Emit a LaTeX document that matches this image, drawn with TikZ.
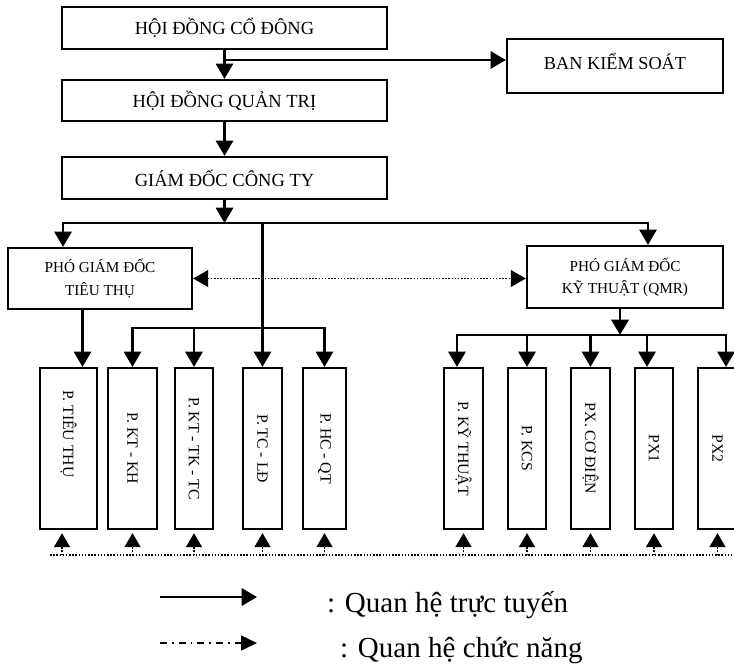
\documentclass[tikz,border=0pt]{standalone}
\usepackage{fontspec}
\setmainfont{Liberation Serif}
\usepackage{tikz}
\usetikzlibrary{arrows.meta,calc}

\begin{document}
\begin{tikzpicture}[
  x=0.3mm, y=-0.3mm,
  box/.style={rectangle, draw=black, line width=0.68mm, inner sep=0pt,
              align=center, fill=white},
  bigbox/.style={box, minimum width=97.5mm, minimum height=12.6mm,
                 font=\fontsize{15.8}{19}\selectfont},
  vicebox/.style={box, font=\fontsize{13}{18.8}\selectfont},
  deptbox/.style={box, minimum height=48.3mm},
  deptlabel/.style={rotate=-90, font=\fontsize{13.4}{16}\selectfont},
  legend/.style={font=\fontsize{24.8}{28}\selectfont, inner sep=0pt},
  line/.style={-{Triangle[length=4.6mm, width=5.2mm]}, line width=0.68mm},
  bus/.style={line width=0.68mm, line cap=rect},
  dots/.style={line width=0.45mm, dash pattern=on 0.45mm off 0.5mm},
  func/.style={dots, -{Triangle[length=4.2mm, width=4.8mm]}},
  dashdot/.style={-{Triangle[length=4.8mm, width=4.5mm]}, line width=0.45mm,
                  dash pattern=on 2.1mm off 1.5mm on 0.5mm off 1.5mm},
]
\useasboundingbox (0,0) rectangle (734,664);

% Top
\node[bigbox] (hdcd) at (224.5,28) {HỘI ĐỒNG CỔ ĐÔNG};
\node[bigbox, minimum height=12.3mm] (hdqt) at (224.5,100.5) {HỘI ĐỒNG QUẢN TRỊ};
\node[bigbox] (gd) at (224.5,178) {GIÁM ĐỐC CÔNG TY};
\node[box, minimum width=64.8mm, minimum height=16.2mm, text depth=3mm,
      font=\fontsize{15.6}{19}\selectfont] (bks) at (615,66) {BAN KIỂM SOÁT};

% Vice directors
\node[vicebox, minimum width=55.2mm, minimum height=18.3mm] (pgdtt) at (100,278.5)
  {PHÓ GIÁM ĐỐC\\TIÊU THỤ};
\node[vicebox, minimum width=58.8mm, minimum height=18.6mm] (pgdkt) at (625,277)
  {PHÓ GIÁM ĐỐC\\KỸ THUẬT (QMR)};

% Departments, left
\node[deptbox, minimum width=17.1mm,
      label={[yshift=4.35mm, deptlabel]center:P. TIÊU THỤ}] (ptt) at (68.5,448.5) {};
\node[deptbox, minimum width=14.7mm,
      label={[deptlabel]center:P. KT - KH}] (pkh) at (132.5,448.5) {};
\node[deptbox, minimum width=11.4mm,
      label={[deptlabel]center:P. KT - TK - TC}] (ptk) at (194,448.5) {};
\node[deptbox, minimum width=11.7mm,
      label={[deptlabel]center:P. TC - LĐ}] (ptc) at (262.5,448.5) {};
\node[deptbox, minimum width=12.9mm,
      label={[deptlabel]center:P. HC - QT}] (phc) at (324.5,448.5) {};

% Departments, right
\node[deptbox, minimum width=11.7mm,
      label={[deptlabel]center:P. KỸ THUẬT}] (pkt) at (463.5,448.5) {};
\node[deptbox, minimum width=11.4mm,
      label={[deptlabel]center:P. KCS}] (pkcs) at (527,448.5) {};
\node[deptbox, minimum width=11.7mm,
      label={[deptlabel]center:PX. CƠ ĐIỆN}] (pxcd) at (590.5,448.5) {};
\node[deptbox, minimum width=11.4mm,
      label={[deptlabel]center:PX1}] (px1) at (654,448.5) {};
\node[deptbox, minimum width=11.7mm,
      label={[deptlabel]center:PX2}] (px2) at (717.5,448.5) {};

% Bus points
\coordinate (jbks) at (224.5,60);
\coordinate (busL) at (63,223);
\coordinate (busR) at (648,223);
\coordinate (lbus) at (262.5,328);
\coordinate (rbus) at (620,335);
\coordinate (ttin) at ($(ptt.north)+(14,0)$);
\coordinate (ktin) at ($(pkt.north)+(-6.5,0)$);
\coordinate (x1in) at ($(px1.north)+(-7,0)$);
\coordinate (x2in) at ($(px2.north)+(8.5,0)$);
\coordinate (ttout) at ($(ptt.south)+(-6.5,0)$);
\coordinate (fbL) at (50,555);
\coordinate (fbR) at (733,555);

% Streams, top
\draw[line] (hdcd) -- (hdqt);
\draw[line] (jbks) -- (bks.west |- jbks);
\draw[line] (hdqt) -- (gd);
\draw[line] (gd) -- (gd.south |- busL);
\draw[bus] (busL) -- (busR);
\draw[line] (busL) -- (busL |- pgdtt.north);
\draw[line] (busR) -- (busR |- pgdkt.north);
\draw[func, {Triangle[length=4.5mm, width=5mm]}-{Triangle[length=4.5mm, width=5mm]}]
  (pgdtt.east) -- (pgdtt.east -| pgdkt.west);

% Streams, left
\draw[line] (ttin |- pgdtt.south) -- (ttin);
\draw[line] (ptc.north |- busL) -- (ptc.north);
\draw[bus] (pkh.north |- lbus) -- (phc.north |- lbus);
\draw[line] (pkh.north |- lbus) -- (pkh.north);
\draw[line] (ptk.north |- lbus) -- (ptk.north);
\draw[line] (phc.north |- lbus) -- (phc.north);

% Streams, right
\draw[line] (pgdkt.south -| rbus) -- (rbus);
\draw[bus] (ktin |- rbus) -- (x2in |- rbus);
\draw[line] (ktin |- rbus) -- (ktin);
\draw[line] (pkcs.north |- rbus) -- (pkcs.north);
\draw[line] (pxcd.north |- rbus) -- (pxcd.north);
\draw[line] (x1in |- rbus) -- (x1in);
\draw[line] (x2in |- rbus) -- (x2in);

% Feedback
\draw[dots] (fbL) -- (fbR);
\draw[func, shorten >=0.9mm] (ttout |- fbL) -- (ttout);
\draw[func, shorten >=0.9mm] (pkh.south |- fbL) -- (pkh.south);
\draw[func, shorten >=0.9mm] (ptk.south |- fbL) -- (ptk.south);
\draw[func, shorten >=0.9mm] (ptc.south |- fbL) -- (ptc.south);
\draw[func, shorten >=0.9mm] (phc.south |- fbL) -- (phc.south);
\draw[func, shorten >=0.9mm] (pkt.south |- fbL) -- (pkt.south);
\draw[func, shorten >=0.9mm] (pkcs.south |- fbL) -- (pkcs.south);
\draw[func, shorten >=0.9mm] (pxcd.south |- fbL) -- (pxcd.south);
\draw[func, shorten >=0.9mm] (px1.south |- fbL) -- (px1.south);
\draw[func, shorten >=0.9mm] (px2.south |- fbL) -- (px2.south);

% Legend
\coordinate (lg1a) at (160,597);
\coordinate (lg1b) at (257,597);
\coordinate (lg2a) at (160,643);
\coordinate (lg2b) at (257,643);
\draw[line] (lg1a) -- (lg1b);
\draw[dashdot] (lg2a) -- (lg2b);
\node[legend, anchor=base west] (lgt1) at (327,612) {: Quan hệ trực tuyến};
\node[legend, anchor=base west] (lgt2) at (340,657) {: Quan hệ chức năng};
\end{tikzpicture}
\end{document}
